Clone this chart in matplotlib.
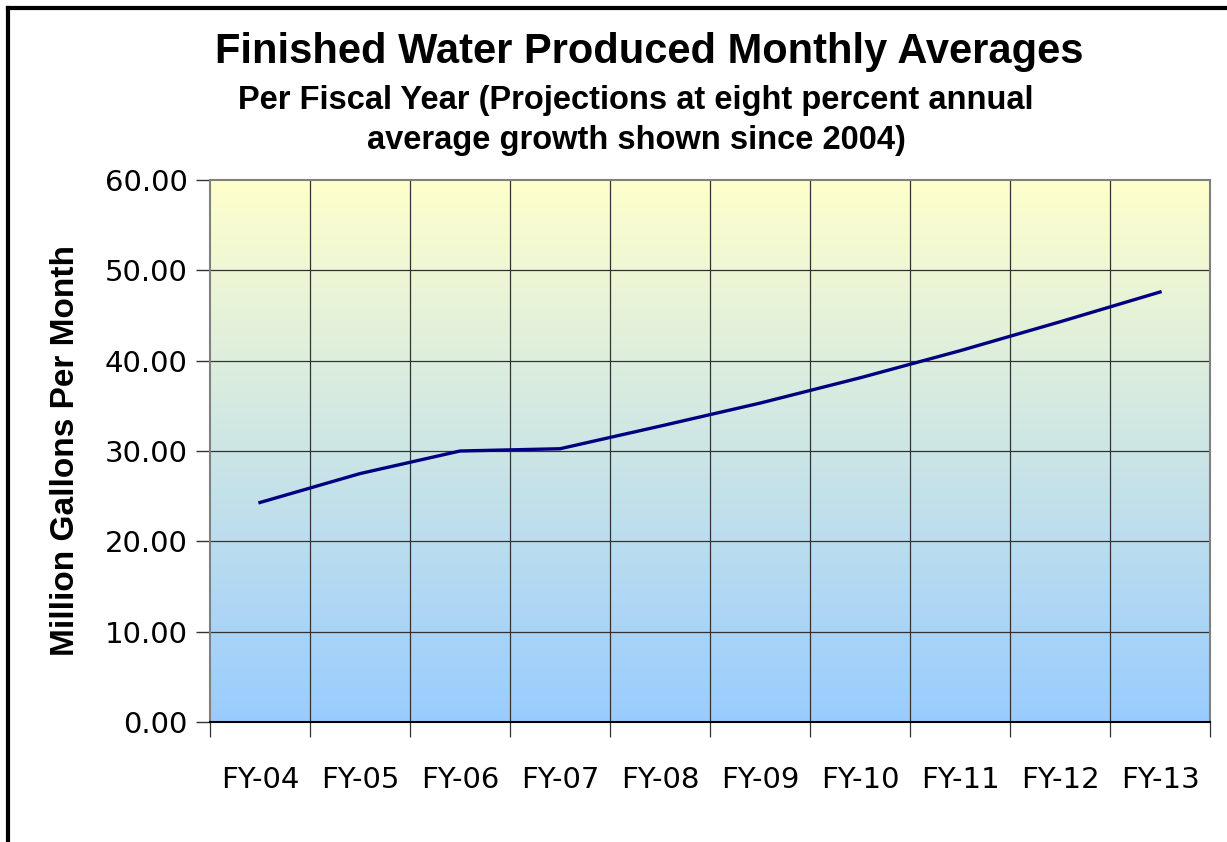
import numpy as np
import matplotlib as mpl
mpl.use('Agg')
import matplotlib.pyplot as plt
from matplotlib.colors import LinearSegmentedColormap
from matplotlib.lines import Line2D

# ========== Data ==========
years = ["FY-04", "FY-05", "FY-06", "FY-07", "FY-08",
         "FY-09", "FY-10", "FY-11", "FY-12", "FY-13"]
mgpm = [24.3, 27.5, 30.0, 30.25, 32.75, 35.3, 38.1, 41.1, 44.3, 47.6]
y_ticks = [0, 10, 20, 30, 40, 50, 60]

# ========== Figure ==========
fig = plt.figure(figsize=(12.27, 8.42), dpi=100)
ax = fig.add_axes([210 / 1227, 1 - 722 / 842, 1000 / 1227, 542 / 842])

# gradient background (light yellow top -> light blue bottom)
cmap = LinearSegmentedColormap.from_list("bg", ["#99CCFF", "#FFFFCC"])
grad = np.linspace(0, 1, 256).reshape(-1, 1)
ax.imshow(grad, cmap=cmap, aspect="auto", origin="lower",
          extent=[-0.5, len(years) - 0.5, 0, 60], zorder=0)

x = np.arange(len(years))
ax.plot(x, mgpm, color="#000080", lw=2.4, zorder=3)

ax.set_xlim(-0.5, len(years) - 0.5)
ax.set_ylim(0, 60)

# grid: vertical lines at category boundaries, horizontal at major ticks
for b in np.arange(0.5, len(years) - 0.5, 1):
    ax.axvline(b, color="#333333", lw=0.9, zorder=1)
for t in y_ticks[1:-1]:
    ax.axhline(t, color="#333333", lw=0.9, zorder=1)

ax.set_yticks(y_ticks)
ax.set_yticklabels([f"{t:.2f}" for t in y_ticks], fontsize=21,
                   family="DejaVu Sans")
ax.set_xticks(x)
ax.set_xticklabels(years, fontsize=21, family="DejaVu Sans")
ax.tick_params(axis="x", length=0, pad=32)
ax.tick_params(axis="y", length=10, width=1, pad=6, color="#333333")

# category boundary ticks under the x axis
ax.set_xticks(np.arange(-0.5, len(years), 1), minor=True)
ax.tick_params(axis="x", which="minor", length=11, width=0.9, color="#333333")

for side in ["top", "right", "left"]:
    ax.spines[side].set_color("#808080")
    ax.spines[side].set_linewidth(1.5)
ax.spines["bottom"].set_color("#000000")
ax.spines["bottom"].set_linewidth(1.5)

ax.set_ylabel("Million Gallons Per Month", fontsize=24, fontweight="bold",
              family="Liberation Sans", labelpad=17)

fig.text(649 / 1227, 1 - 52 / 842, "Finished Water Produced Monthly Averages",
         ha="center", va="center", fontsize=30, fontweight="bold",
         family="Liberation Sans")
fig.text(636 / 1227, 1 - 101 / 842,
         "Per Fiscal Year (Projections at eight percent annual",
         ha="center", va="center", fontsize=23.5, fontweight="bold",
         family="Liberation Sans")
fig.text(636 / 1227, 1 - 141 / 842,
         "average growth shown since 2004)",
         ha="center", va="center", fontsize=23.5, fontweight="bold",
         family="Liberation Sans")

# outer frame (top and left edges)
fig.add_artist(Line2D([8 / 1227, 1], [1 - 8 / 842, 1 - 8 / 842],
                      color="black", lw=3, transform=fig.transFigure))
fig.add_artist(Line2D([8 / 1227, 8 / 1227], [0, 1 - 8 / 842],
                      color="black", lw=3, transform=fig.transFigure))

fig.savefig("out.png", dpi=100)
